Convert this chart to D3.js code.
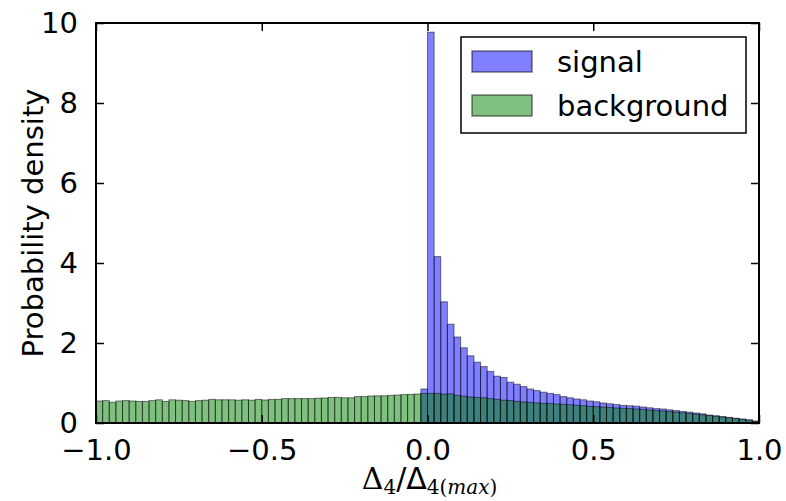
<!DOCTYPE html>
<html>
<head>
<meta charset="utf-8">
<script src="https://cdn.jsdelivr.net/npm/d3@7"></script>
<style>
  html, body { margin: 0; padding: 0; background: #fff; }
  svg { display: block; font-family: 'DejaVu Sans', sans-serif; }
</style>
</head>
<body>
<div id="chart"></div>
<script>
// Histogram of Δ4/Δ4(max): 100 bins on [-1, 1]

const xRange = [-1, 1];
const yRange = [0, 10];
const xTicks = [-1.0, -0.5, 0.0, 0.5, 1.0];
const yTicks = [0, 2, 4, 6, 8, 10];

// signal: zero below 0 except the bin just left of 0
const signal = [
  0,0,0,0,0,0,0,0,0,0, 0,0,0,0,0,0,0,0,0,0,
  0,0,0,0,0,0,0,0,0,0, 0,0,0,0,0,0,0,0,0,0,
  0,0,0,0,0,0,0,0,0,0.85,
  9.77,4.16,3.03,2.47,2.15,1.88,1.68,1.52,1.41,1.29,
  1.17,1.14,1.02,0.97,0.91,0.85,0.81,0.77,0.74,0.71,
  0.66,0.63,0.60,0.58,0.55,0.53,0.50,0.48,0.46,0.44,
  0.43,0.42,0.40,0.38,0.36,0.35,0.33,0.31,0.29,0.27,
  0.25,0.23,0.20,0.18,0.16,0.14,0.12,0.10,0.08,0.05
];

const background = [
  0.55,0.56,0.52,0.55,0.56,0.55,0.54,0.54,0.56,0.58,
  0.54,0.58,0.57,0.56,0.54,0.56,0.57,0.59,0.58,0.58,
  0.58,0.57,0.58,0.57,0.59,0.575,0.59,0.59,0.61,0.61,
  0.61,0.61,0.61,0.62,0.625,0.64,0.64,0.63,0.63,0.66,
  0.66,0.675,0.68,0.68,0.69,0.70,0.71,0.715,0.725,0.74,
  0.74,0.74,0.72,0.73,0.69,0.67,0.65,0.64,0.63,0.61,
  0.59,0.57,0.56,0.54,0.525,0.517,0.50,0.49,0.49,0.475,
  0.467,0.458,0.442,0.433,0.417,0.408,0.40,0.392,0.375,0.367,
  0.36,0.35,0.34,0.325,0.31,0.30,0.285,0.27,0.255,0.24,
  0.22,0.205,0.185,0.17,0.15,0.13,0.11,0.09,0.07,0.04
];

const series = [
  { label: 'signal', values: signal, color: '#0000ff' },
  { label: 'background', values: background, color: '#008000' }
];

const W = 786, H = 501;
const m = { top: 23, right: 27, bottom: 78, left: 96 };
const iW = W - m.left - m.right, iH = H - m.top - m.bottom;
const FS = 29;

const svg = d3.select('#chart').append('svg').attr('width', W).attr('height', H);
const g = svg.append('g').attr('transform', `translate(${m.left},${m.top})`);

const x = d3.scaleLinear().domain(xRange).range([0, iW]);
const y = d3.scaleLinear().domain(yRange).range([iH, 0]);

// Bars — signal first, background on top (both half transparent)
series.forEach(s => {
  const n = s.values.length;
  const bw = (xRange[1] - xRange[0]) / n;
  const bins = s.values
    .map((v, i) => ({ v, x0: xRange[0] + i * bw, x1: xRange[0] + (i + 1) * bw }))
    .filter(d => d.v > 0);
  g.append('g').selectAll('rect').data(bins).enter().append('rect')
    .attr('x', d => x(d.x0))
    .attr('width', d => x(d.x1) - x(d.x0))
    .attr('y', d => y(d.v))
    .attr('height', d => iH - y(d.v))
    .attr('fill', s.color).attr('fill-opacity', 0.5)
    .attr('stroke', '#000').attr('stroke-opacity', 0.5).attr('stroke-width', 1);
});

// Ticks inside on all four sides
const tickLen = 8;
const fmtX = d => (d < 0 ? '\u2212' : '') + Math.abs(d).toFixed(1);

g.append('g').attr('transform', `translate(0,${iH})`)
  .call(d3.axisBottom(x).tickValues(xTicks).tickSize(-tickLen).tickPadding(tickLen + 8).tickFormat(fmtX))
  .call(a => { a.select('.domain').remove(); a.selectAll('line').attr('stroke', '#000').attr('stroke-width', 1.5);
               a.selectAll('text').attr('font-size', FS).attr('font-family', 'DejaVu Sans').attr('fill', '#000'); });
g.append('g')
  .call(d3.axisTop(x).tickValues(xTicks).tickSize(-tickLen).tickFormat(''))
  .call(a => { a.select('.domain').remove(); a.selectAll('line').attr('stroke', '#000').attr('stroke-width', 1.5); });
g.append('g')
  .call(d3.axisLeft(y).tickValues(yTicks).tickSize(-tickLen).tickPadding(tickLen + 10).tickFormat(d3.format('d')))
  .call(a => { a.select('.domain').remove(); a.selectAll('line').attr('stroke', '#000').attr('stroke-width', 1.5);
               a.selectAll('text').attr('font-size', FS).attr('font-family', 'DejaVu Sans').attr('fill', '#000'); });
g.append('g').attr('transform', `translate(${iW},0)`)
  .call(d3.axisRight(y).tickValues(yTicks).tickSize(-tickLen).tickFormat(''))
  .call(a => { a.select('.domain').remove(); a.selectAll('line').attr('stroke', '#000').attr('stroke-width', 1.5); });

// Frame
g.append('rect').attr('width', iW).attr('height', iH)
  .attr('fill', 'none').attr('stroke', '#000').attr('stroke-width', 2);

// Axis labels
svg.append('text')
  .attr('transform', `translate(33,${m.top + iH / 2}) rotate(-90)`)
  .attr('text-anchor', 'middle').attr('dominant-baseline', 'central')
  .attr('font-size', FS).attr('fill', '#000')
  .text('Probability density');

const xl = svg.append('text')
  .attr('x', m.left + iW / 2 + 2).attr('y', 489)
  .attr('text-anchor', 'middle')
  .attr('font-family', "'DejaVu Serif', serif").attr('font-size', 30).attr('fill', '#000');
xl.append('tspan').text('\u0394');
xl.append('tspan').attr('font-size', 20).attr('dy', 5).text('4');
xl.append('tspan').attr('dy', -5).attr('font-family', 'DejaVu Sans').text('/\u0394');
xl.append('tspan').attr('font-size', 20).attr('dy', 5).text('4(');
xl.append('tspan').attr('font-size', 20).attr('font-style', 'italic').text('max');
xl.append('tspan').attr('font-size', 20).text(')');

// Legend
const lg = svg.append('g').attr('transform', 'translate(461,37)');
lg.append('rect').attr('width', 285).attr('height', 96)
  .attr('fill', '#fff').attr('stroke', '#000').attr('stroke-width', 1.5);
series.forEach((s, i) => {
  const row = lg.append('g').attr('transform', `translate(11,${14 + i * 44})`);
  row.append('rect').attr('width', 60).attr('height', 21)
    .attr('fill', s.color).attr('fill-opacity', 0.5)
    .attr('stroke', '#000').attr('stroke-opacity', 0.5).attr('stroke-width', 1.5);
  row.append('text').attr('x', 85).attr('y', 10.5).attr('dominant-baseline', 'central')
    .attr('font-size', FS).attr('fill', '#000').text(s.label);
});
</script>
</body>
</html>
